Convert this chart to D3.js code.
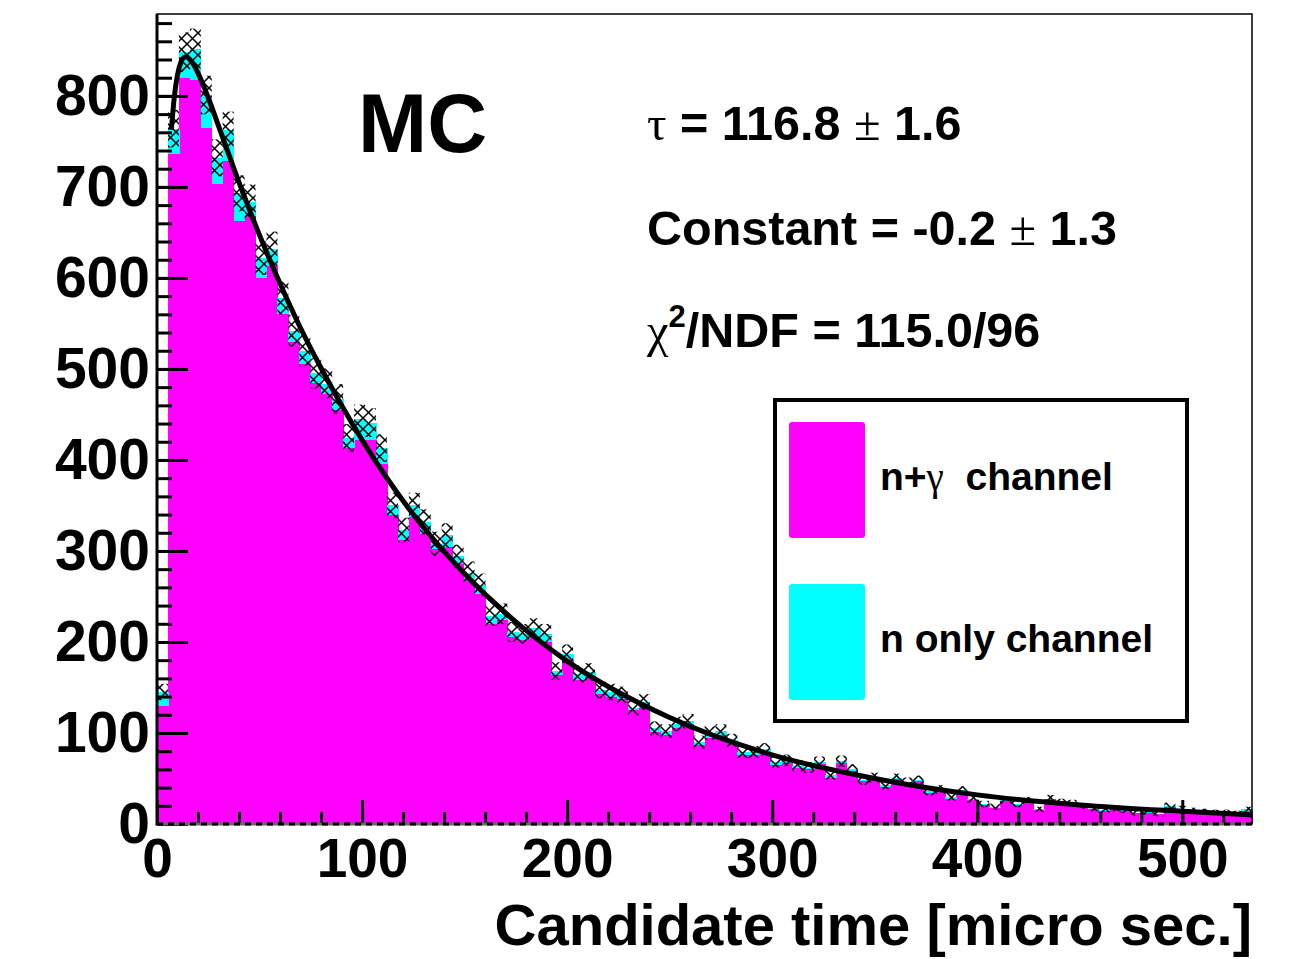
<!DOCTYPE html>
<html>
<head>
<meta charset="utf-8">
<script src="https://cdn.jsdelivr.net/npm/d3@7"></script>
<style>
    body { margin: 0; background: #fff; }
    text { font-family: "Liberation Sans", Arial, sans-serif; font-weight: bold; fill: #000; }
    .sym { font-family: "Liberation Serif", "DejaVu Serif", serif; font-weight: normal; }
</style>
</head>
<body>
<div id="chart"></div>
<script>
// 100 bins of 5.34 micro sec, from 0 to 534
const binWidth = 5.34;

// n+gamma channel counts per bin (magenta, bottom of the stack)
const nGammaCounts = [
    130, 736, 820, 818, 765, 703, 729, 663, 668, 600,
    613, 560, 530, 505, 485, 472, 455, 413, 422, 422,
    396, 340, 312, 337, 319, 302, 304, 286, 268, 253,
    220, 224, 205, 202, 205, 200, 164, 180, 158, 161,
    143, 140, 137, 125, 128, 101, 98, 105, 109, 87,
    95, 98, 89, 76, 76, 79, 65, 67, 62, 60,
    66, 51, 67, 58, 47, 49, 41, 49, 44, 47,
    34, 37, 28, 34, 26, 21, 18, 25, 21, 25,
    15, 27, 23, 22, 20, 16, 14, 16, 14, 12,
    12, 11, 19, 16, 14, 13, 12, 12, 11, 14
];

// n only channel counts per bin (cyan, stacked on top)
const nOnlyCounts = [
    15, 28, 28, 34, 36, 29, 33, 30, 15, 22,
    19, 18, 12, 15, 10, 12, 12, 11, 23, 19,
    17, 10, 11, 13, 13, 6, 13, 8, 8, 10,
    9, 7, 6, 7, 10, 9, 4, 7, 7, 6,
    4, 5, 5, 3, 6, 4, 4, 5, 4, 3,
    5, 4, 3, 3, 3, 3, 3, 3, 2, 2,
    2, 3, 2, 2, 1, 2, 2, 1, 2, 1,
    2, 1, 2, 3, 1, 1, 1, 1, 1, 1,
    1, 1, 1, 1, 0, 1, 1, 1, 1, 0,
    1, 0, 1, 1, 1, 1, 1, 1, 1, 2
];

// error on the summed histogram (hatched boxes)
const sumErrors = [
    9.0, 20.7, 21.8, 21.9, 21.2, 20.3, 20.7, 19.7, 19.6, 18.7,
    18.9, 18.0, 17.5, 17.1, 16.7, 16.5, 16.2, 15.4, 15.8, 15.8,
    15.2, 14.0, 13.5, 14.0, 13.7, 13.2, 13.4, 12.9, 12.5, 12.2,
    11.4, 11.4, 10.9, 10.8, 11.0, 10.8, 9.7, 10.3, 9.6, 9.7,
    9.1, 9.0, 8.9, 8.5, 8.7, 7.7, 7.6, 7.9, 8.0, 7.1,
    7.5, 7.6, 7.2, 6.7, 6.7, 6.8, 6.2, 6.3, 6.0, 5.9,
    6.2, 5.5, 6.2, 5.8, 5.2, 5.4, 4.9, 5.3, 5.1, 5.2,
    4.5, 4.6, 4.1, 4.6, 3.9, 3.5, 3.3, 3.8, 3.5, 3.8,
    3.0, 4.0, 3.7, 3.6, 3.4, 3.1, 2.9, 3.1, 2.9, 2.6,
    2.7, 2.5, 3.4, 3.1, 2.9, 2.8, 2.7, 2.7, 2.6, 3.0
];

// fit curve, sampled
const fitTimes  = [7, 8.5, 10, 11.5, 13, 14.5, 16, 18, 20, 25, 30, 40, 50, 60, 70, 80, 90, 100,
                   125, 150, 175, 200, 250, 300, 350, 400, 450, 500, 534];
const fitValues = [763, 800, 823, 836, 842, 843, 840, 834, 825, 798, 767, 705, 647, 594, 545, 501, 460, 422,
                   340, 275, 222, 179, 117, 76, 50, 32, 21, 14, 10];

const xTicks = [0, 100, 200, 300, 400, 500];
const xMinorTicks = d3.range(0, 535, 20);
const yTicks = [0, 100, 200, 300, 400, 500, 600, 700, 800];
const yMinorTicks = d3.range(0, 891, 20);

const W = 1297, H = 959;
const margin = {top: 14, right: 45, bottom: 135, left: 157};

const svg = d3.select('#chart')
    .append('svg')
    .attr('width', W)
    .attr('height', H);

const x = d3.scaleLinear()
    .domain([0, 534])
    .range([margin.left, W - margin.right]);

const y = d3.scaleLinear()
    .domain([0, 890])
    .range([H - margin.bottom, margin.top]);

// hatch pattern for the error boxes
svg.append('defs')
    .append('pattern')
    .attr('id', 'hatch')
    .attr('patternUnits', 'userSpaceOnUse')
    .attr('width', 11)
    .attr('height', 11)
    .append('path')
    .attr('d', 'M0,0L11,11M11,0L0,11')
    .attr('stroke', '#000')
    .attr('stroke-width', 1.5)
    .attr('fill', 'none');

// stacked histogram
const bins = nGammaCounts.map((v, i) => ({
    lo: i * binWidth,
    hi: (i + 1) * binWidth,
    ngamma: v,
    nonly: nOnlyCounts[i],
    err: sumErrors[i]
}));

const stacked = d3.stack().keys(['ngamma', 'nonly'])(bins);
const colors = {ngamma: '#ff00ff', nonly: '#00ffff'};

const plot = svg.append('g');

stacked.forEach(layer => {
    plot.append('g')
        .selectAll('rect')
        .data(layer)
        .enter()
        .append('rect')
        .attr('x', d => x(d.data.lo))
        .attr('width', d => x(d.data.hi) - x(d.data.lo) + 0.6)
        .attr('y', d => y(d[1]))
        .attr('height', d => y(d[0]) - y(d[1]))
        .attr('fill', colors[layer.key])
        .attr('shape-rendering', 'crispEdges');
});

// hatched error boxes around the sum
plot.append('g')
    .selectAll('rect')
    .data(bins)
    .enter()
    .append('rect')
    .attr('x', d => x(d.lo))
    .attr('width', d => x(d.hi) - x(d.lo))
    .attr('y', d => y(d.ngamma + d.nonly + d.err))
    .attr('height', d => y(d.ngamma + d.nonly - d.err) - y(d.ngamma + d.nonly + d.err))
    .attr('fill', 'url(#hatch)');

// fit
const fitLine = d3.line()
    .x(d => x(d[0]))
    .y(d => y(d[1]))
    .curve(d3.curveMonotoneX);

plot.append('path')
    .datum(fitTimes.map((t, i) => [t, fitValues[i]]))
    .attr('d', fitLine)
    .attr('fill', 'none')
    .attr('stroke', '#000')
    .attr('stroke-width', 5)
    .attr('stroke-linejoin', 'round');

// frame
svg.append('rect')
    .attr('x', x(0))
    .attr('y', y(890))
    .attr('width', x(534) - x(0))
    .attr('height', y(0) - y(890))
    .attr('fill', 'none')
    .attr('stroke', '#000')
    .attr('stroke-width', 1.5);

// axes
const yAxis = d3.axisLeft(y)
    .tickValues(yTicks)
    .tickSizeInner(-31)
    .tickSizeOuter(0)
    .tickPadding(7)
    .tickFormat(d3.format('d'));

const yMinor = d3.axisLeft(y)
    .tickValues(yMinorTicks)
    .tickSizeInner(-15)
    .tickSizeOuter(0)
    .tickFormat('');

const xAxis = d3.axisBottom(x)
    .tickValues(xTicks)
    .tickSizeInner(-24)
    .tickSizeOuter(0)
    .tickPadding(14)
    .tickFormat(d3.format('d'));

const xMinor = d3.axisBottom(x)
    .tickValues(xMinorTicks)
    .tickSizeInner(-12)
    .tickSizeOuter(0)
    .tickFormat('');

function styleAxis(g, size) {
    g.select('.domain').remove();
    g.selectAll('line').attr('stroke', '#000').attr('stroke-width', 3);
    g.selectAll('text')
        .attr('font-size', size)
        .attr('font-family', '"Liberation Sans", Arial, sans-serif')
        .attr('font-weight', 'bold')
        .attr('fill', '#000');
}

svg.append('g').attr('transform', 'translate(' + x(0) + ',0)').call(yMinor).call(styleAxis, 57);
svg.append('g').attr('transform', 'translate(' + x(0) + ',0)').call(yAxis).call(styleAxis, 57);
svg.append('g').attr('transform', 'translate(0,' + y(0) + ')').call(xMinor).call(styleAxis, 55);
svg.append('g').attr('transform', 'translate(0,' + y(0) + ')').call(xAxis).call(styleAxis, 55);

// axis lines (left solid, bottom looks dashed grey/black)
svg.append('line')
    .attr('x1', x(0)).attr('x2', x(0))
    .attr('y1', y(890)).attr('y2', y(0) + 1.5)
    .attr('stroke', '#000').attr('stroke-width', 3);
svg.append('line')
    .attr('x1', x(0)).attr('x2', x(534))
    .attr('y1', y(0)).attr('y2', y(0))
    .attr('stroke', '#666').attr('stroke-width', 3);
svg.append('line')
    .attr('x1', x(0)).attr('x2', x(534))
    .attr('y1', y(0)).attr('y2', y(0))
    .attr('stroke', '#000').attr('stroke-width', 3)
    .attr('stroke-dasharray', '6,5');

// axis title
svg.append('text')
    .attr('x', x(534))
    .attr('y', 945)
    .attr('text-anchor', 'end')
    .attr('font-size', 58)
    .text('Candidate time [micro sec.]');

// MC label
svg.append('text')
    .attr('x', 358)
    .attr('y', 152)
    .attr('font-size', 83)
    .text('MC');

// fit results
const stats = svg.append('g').attr('font-size', 48.5);

let t1 = stats.append('text').attr('x', 647).attr('y', 140);
t1.append('tspan').attr('class', 'sym').text('τ');
t1.append('tspan').text(' = 116.8 ');
t1.append('tspan').attr('class', 'sym').text('±');
t1.append('tspan').text(' 1.6');

let t2 = stats.append('text').attr('x', 647).attr('y', 245);
t2.append('tspan').text('Constant = -0.2 ');
t2.append('tspan').attr('class', 'sym').text('±');
t2.append('tspan').text(' 1.3');

let t3 = stats.append('text').attr('x', 647).attr('y', 347);
t3.append('tspan').attr('class', 'sym').text('χ');
t3.append('tspan').attr('font-size', 31).attr('dy', -20).text('2');
t3.append('tspan').attr('dy', 20).text('/NDF = 115.0/96');

// legend
const legend = svg.append('g');
legend.append('rect')
    .attr('x', 775).attr('y', 400)
    .attr('width', 412).attr('height', 321)
    .attr('fill', '#fff')
    .attr('stroke', '#000')
    .attr('stroke-width', 4);

const legendItems = [
    {key: 'ngamma', y: 422},
    {key: 'nonly', y: 584}
];

legend.selectAll('.swatch')
    .data(legendItems)
    .enter()
    .append('rect')
    .attr('class', 'swatch')
    .attr('x', 789)
    .attr('y', d => d.y)
    .attr('width', 76)
    .attr('height', 116)
    .attr('rx', 3)
    .attr('fill', d => colors[d.key]);

let l1 = legend.append('text').attr('x', 880).attr('y', 490).attr('font-size', 39);
l1.append('tspan').text('n+');
l1.append('tspan').attr('class', 'sym').text('γ');
l1.append('tspan').text('\u00a0 channel');

legend.append('text').attr('x', 880).attr('y', 652).attr('font-size', 39)
    .text('n only channel');
</script>
</body>
</html>
